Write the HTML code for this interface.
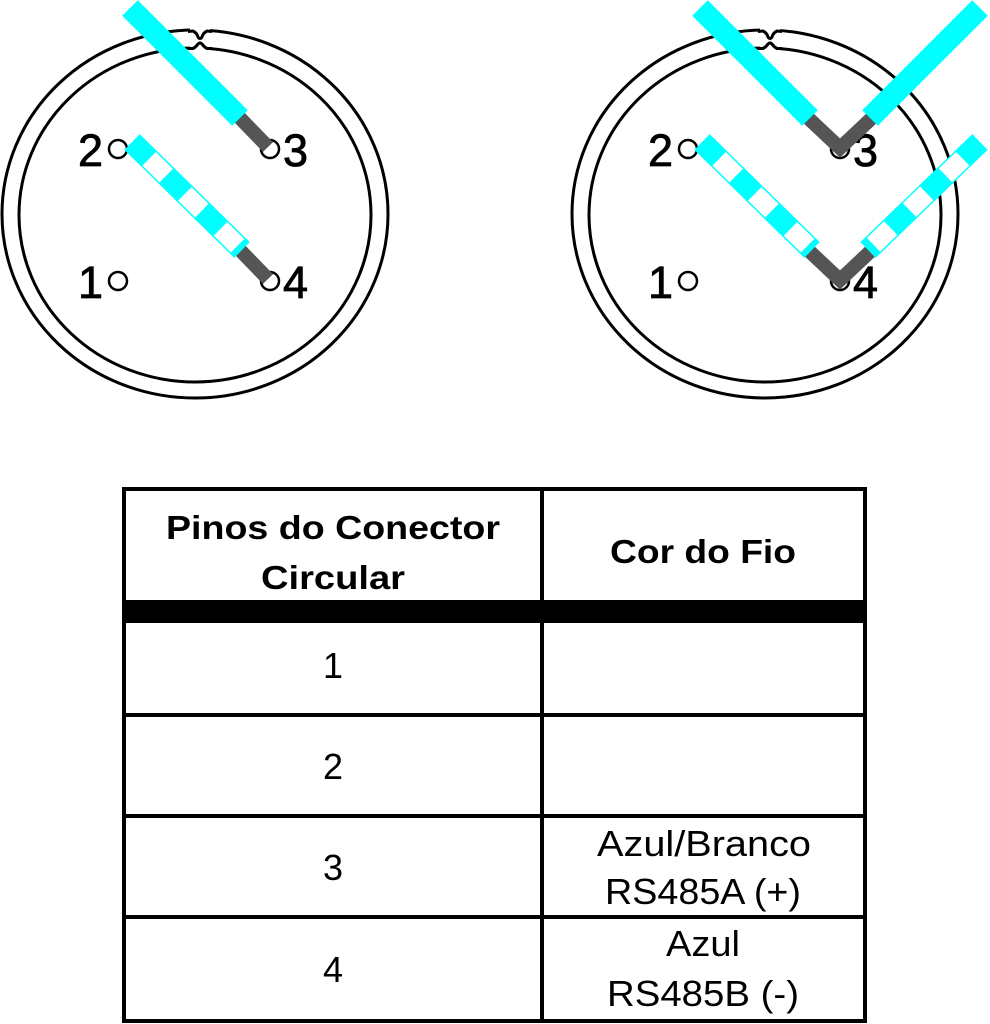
<!DOCTYPE html>
<html><head><meta charset="utf-8"><style>
html,body{margin:0;padding:0;background:#fff;}
svg{display:block}
</style></head><body>
<svg width="990" height="1024" viewBox="0 0 990 1024" xmlns="http://www.w3.org/2000/svg">
<defs>
<g id="conn">
  <ellipse cx="195" cy="214" rx="193" ry="184" fill="none" stroke="#000" stroke-width="3"/>
  <ellipse cx="195" cy="215" rx="176" ry="167" fill="none" stroke="#000" stroke-width="3"/>
  <rect x="190" y="27" width="20" height="24" fill="#fff"/>
  <path d="M188 31.5 L193 31 Q197 33 198 37 Q200 40 202 37 Q203 33 207 31 L212 31.5" fill="none" stroke="#000" stroke-width="3"/>
  <path d="M188 48.5 L193 48.5 Q196 47 198 44 Q200 42 202 44 Q204 47 207 48.5 L212 48.5" fill="none" stroke="#000" stroke-width="3"/>
  <circle cx="118" cy="149" r="9" fill="#fff" stroke="#000" stroke-width="2.5"/>
  <circle cx="270" cy="149" r="9" fill="#fff" stroke="#000" stroke-width="2.5"/>
  <circle cx="118" cy="281" r="9" fill="#fff" stroke="#000" stroke-width="2.5"/>
  <circle cx="270" cy="281" r="9" fill="#fff" stroke="#000" stroke-width="2.5"/>
  <g font-family="Liberation Sans, sans-serif" font-size="45" fill="#000" stroke="#000" stroke-width="0.8">
    <text x="78" y="166">2</text>
    <text x="283" y="166">3</text>
    <text x="78" y="298">1</text>
    <text x="283" y="298">4</text>
  </g>
</g>
</defs>

<use href="#conn"/>
<use href="#conn" x="570"/>

<!-- left wires -->
<line x1="238" y1="116" x2="268" y2="147" stroke="#555" stroke-width="14"/>
<line x1="130" y1="8" x2="240" y2="118" stroke="#00ffff" stroke-width="22"/>
<line x1="238" y1="248" x2="268" y2="279" stroke="#555" stroke-width="14"/>
<line x1="132" y1="142" x2="242" y2="250" stroke="#00ffff" stroke-width="22"/>
<line x1="132" y1="142" x2="242" y2="250" stroke="#fff" stroke-width="19" stroke-dasharray="24 26" stroke-dashoffset="-24"/>

<!-- right wires -->
<polyline points="806,116 840,148 874,116" fill="none" stroke="#555" stroke-width="14"/>
<line x1="700" y1="8" x2="810" y2="118" stroke="#00ffff" stroke-width="22"/>
<line x1="980" y1="8" x2="870" y2="118" stroke="#00ffff" stroke-width="22"/>
<polyline points="806,248 840,280 874,248" fill="none" stroke="#555" stroke-width="14"/>
<line x1="702" y1="142" x2="812" y2="250" stroke="#00ffff" stroke-width="22"/>
<line x1="702" y1="142" x2="812" y2="250" stroke="#fff" stroke-width="19" stroke-dasharray="24 26" stroke-dashoffset="-24"/>
<line x1="980" y1="142" x2="868" y2="250" stroke="#00ffff" stroke-width="22"/>
<line x1="980" y1="142" x2="868" y2="250" stroke="#fff" stroke-width="19" stroke-dasharray="24 26" stroke-dashoffset="-24"/>

<!-- table -->
<g fill="#000">
  <rect x="122" y="487" width="745" height="4"/>
  <rect x="122" y="487" width="4" height="536"/>
  <rect x="863" y="487" width="4" height="536"/>
  <rect x="540" y="487" width="4" height="536"/>
  <rect x="122" y="600" width="745" height="23"/>
  <rect x="122" y="713" width="745" height="4"/>
  <rect x="122" y="814" width="745" height="4"/>
  <rect x="122" y="915" width="745" height="4"/>
  <rect x="122" y="1019" width="745" height="4"/>
</g>
<g font-family="Liberation Sans, sans-serif" text-anchor="middle" fill="#000">
  <g font-size="33" font-weight="bold">
    <text x="333" y="539" textLength="334" lengthAdjust="spacingAndGlyphs">Pinos do Conector</text>
    <text x="333" y="589" textLength="144" lengthAdjust="spacingAndGlyphs">Circular</text>
    <text x="703" y="563" textLength="186" lengthAdjust="spacingAndGlyphs">Cor do Fio</text>
  </g>
  <g font-size="36">
    <text x="333" y="678">1</text>
    <text x="333" y="779">2</text>
    <text x="333" y="880">3</text>
    <text x="333" y="982">4</text>
    <text x="704" y="856" textLength="214" lengthAdjust="spacingAndGlyphs">Azul/Branco</text>
    <text x="703" y="904" textLength="196" lengthAdjust="spacingAndGlyphs">RS485A (+)</text>
    <text x="703" y="956" textLength="74" lengthAdjust="spacingAndGlyphs">Azul</text>
    <text x="703" y="1006" textLength="192" lengthAdjust="spacingAndGlyphs">RS485B (-)</text>
  </g>
</g>
</svg>
</body></html>
